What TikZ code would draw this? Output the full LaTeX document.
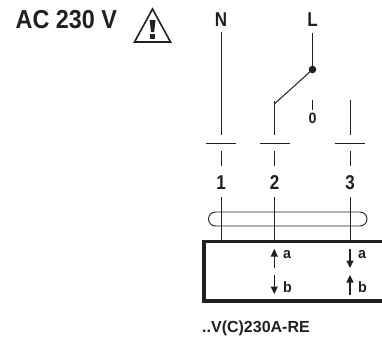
\documentclass[tikz,border=0pt]{standalone}
\usepackage{fontspec}
\setmainfont{Liberation Sans}
\usetikzlibrary{arrows.meta}
\definecolor{ink}{HTML}{231F20}
\tikzset{
  x=1pt,y=-1pt,
  wire/.style={draw=ink,line width=1pt},
  thin wire/.style={draw=ink,line width=0.9pt},
  frame/.style={draw=ink,line width=3.6pt},
  lbl/.style={inner sep=0,text=ink,xscale=0.85,font=\bfseries\fontsize{20}{20}\selectfont},
  small/.style={inner sep=0,text=ink,xscale=0.95,font=\bfseries\fontsize{15}{15}\selectfont},
  big/.style={inner sep=0,text=ink,xscale=0.9,font=\bfseries\fontsize{26}{26}\selectfont},
  arr/.style={draw=ink,line width=1.2pt,-{Triangle[length=7.5pt,width=7pt]}},
}
\begin{document}
\begin{tikzpicture}
\useasboundingbox (0,0) rectangle (382,340);
\node[big,anchor=west] (ac) at (15.5,20) {AC 230 V};
% warning sign
\draw[draw=ink,line width=1.6pt,line join=miter] (152.5,9) -- (134.5,42) -- (170.5,42) -- cycle;
\fill[ink] (149.7,20) -- (155.5,20) -- (154.2,32) -- (151,32) -- cycle;
\fill[ink] (150,33.5) rectangle (155.2,38.7);
% labels
\node[lbl] (N) at (221,19.5) {N};
\node[lbl] (L) at (312.5,19.5) {L};
\node[small] (zero) at (312.5,118) {0};
\node[lbl] (n1) at (221,183) {1};
\node[lbl] (n2) at (274.5,183) {2};
\node[lbl] (n3) at (350,183) {3};
% wires
\coordinate (nTop) at (221,32); \coordinate (nBot) at (221,135);
\draw[wire] (nTop) -- (nBot);
\coordinate (lTop) at (312.5,33); \coordinate (pivot) at (312.5,69.5);
\draw[wire,line width=1.3pt] (lTop) -- (pivot);
\fill[ink] (pivot) circle (3.8);
\coordinate (sw) at (274.3,104);
\draw[wire] (pivot) -- (sw);
\coordinate (w2b) at (274.3,135);
\draw[wire] (274.3,100.5) -- (w2b);
\draw[wire] (312.5,100) -- (312.5,110);
\draw[wire] (350,100) -- (350,135);
% contacts
\foreach \xa/\xb/\xc in {206/221/236,259.5/274.3/290,335/350/365}{
  \draw[wire] (\xa,143) -- (\xc,143);
  \draw[wire] (\xb,151) -- (\xb,166);
}
% capsule
\draw[thin wire,rounded corners=7pt] (208.5,212) rectangle (367,226);
% lower wires
\draw[wire] (221,197) -- (221,241);
\draw[wire] (274.3,197) -- (274.3,241);
\draw[wire] (350,197) -- (350,241);
% box
\draw[frame] (385,241.5) -- (204,241.5) -- (204,301) -- (385,301);
% arrows
\draw[arr] (274.3,268) -- (274.3,249);
\draw[arr] (274.3,275) -- (274.3,294);
\draw[arr] (350,249) -- (350,268);
\draw[arr] (350,295) -- (350,275);
\node[small] (a2) at (287,255) {a};
\node[small] (b2) at (287.5,287) {b};
\node[small] (a3) at (362,255) {a};
\node[small] (b3) at (362.5,287) {b};
\node[inner sep=0,text=ink,font=\bfseries\fontsize{16}{16}\selectfont,anchor=west] (model) at (202,328) {..V(C)230A-RE};
\end{tikzpicture}
\end{document}
